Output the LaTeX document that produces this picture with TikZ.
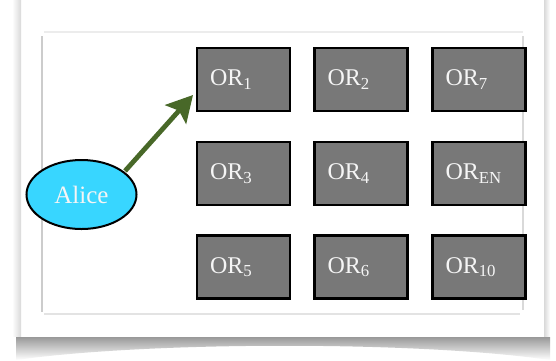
\documentclass[tikz,border=0pt]{standalone}
\usepackage{fontspec}
\setmainfont{Liberation Serif}
\usetikzlibrary{arrows.meta,shapes.geometric}
\definecolor{boxgray}{RGB}{120,120,120}
\definecolor{alicecyan}{RGB}{56,214,255}
\definecolor{arrowgreen}{RGB}{72,104,40}
\definecolor{txtwhite}{RGB}{245,245,245}
\begin{document}
\begin{tikzpicture}[x=1pt,y=-1pt,
  orbox/.style={draw=black, line width=2.5pt, fill=boxgray, text=txtwhite,
    minimum width=93pt, minimum height=63pt, text width=67pt, inner xsep=13pt,
    align=left, font=\fontsize{24}{27}\selectfont},
  alicenode/.style={ellipse, draw=black, line width=2pt, fill=alicecyan, text=txtwhite,
    minimum width=110pt, minimum height=69pt, inner sep=0pt,
    font=\fontsize{25}{28}\selectfont},
  arr/.style={draw=arrowgreen, line width=4.8pt,
    -{Stealth[length=26pt,width=28pt,inset=5pt]}},
  frameline/.style={line width=1.4pt}
]
\useasboundingbox (0,0) rectangle (556,360);
\fill[white] (0,0) rectangle (556,360);
% outer card shadows
\shade[left color=white, right color=gray!30] (12,0) rectangle (21,336);
\shade[left color=gray!30, right color=white] (544,0) rectangle (550,336);
\shade[top color=gray!80, bottom color=white]
  (16,337) -- (550,337) -- (550,360) .. controls (420,341) and (150,341) .. (16,360) -- cycle;
% inner frame
\draw[frameline, gray!15] (44,32) -- (523,32);
\draw[frameline, gray!40] (42,36) -- (42,312);
\draw[frameline, gray!22] (44,314) -- (520,314);
\draw[frameline, gray!30] (523,36) -- (523,310);
% boxes
\node[orbox] (or1)  at (243.5,79.5) {OR\textsubscript{1}};
\node[orbox] (or2)  at (361,79.5)   {OR\textsubscript{2}};
\node[orbox] (or7)  at (479,79.5)   {OR\textsubscript{7}};
\node[orbox] (or3)  at (243.5,173.5) {OR\textsubscript{3}};
\node[orbox] (or4)  at (361,173.5)   {OR\textsubscript{4}};
\node[orbox] (oren) at (479,173.5)   {OR\textsubscript{EN}};
\node[orbox] (or5)  at (243.5,267) {OR\textsubscript{5}};
\node[orbox] (or6)  at (361,267)   {OR\textsubscript{6}};
\node[orbox] (or10) at (479,267)   {OR\textsubscript{10}};
% Alice
\node[alicenode] (alice) at (81.5,194.5) {Alice};
% arrow
\coordinate (tip) at (193,95);
\draw[arr, shorten <=1pt] (alice.28) -- (tip);
\end{tikzpicture}
\end{document}
